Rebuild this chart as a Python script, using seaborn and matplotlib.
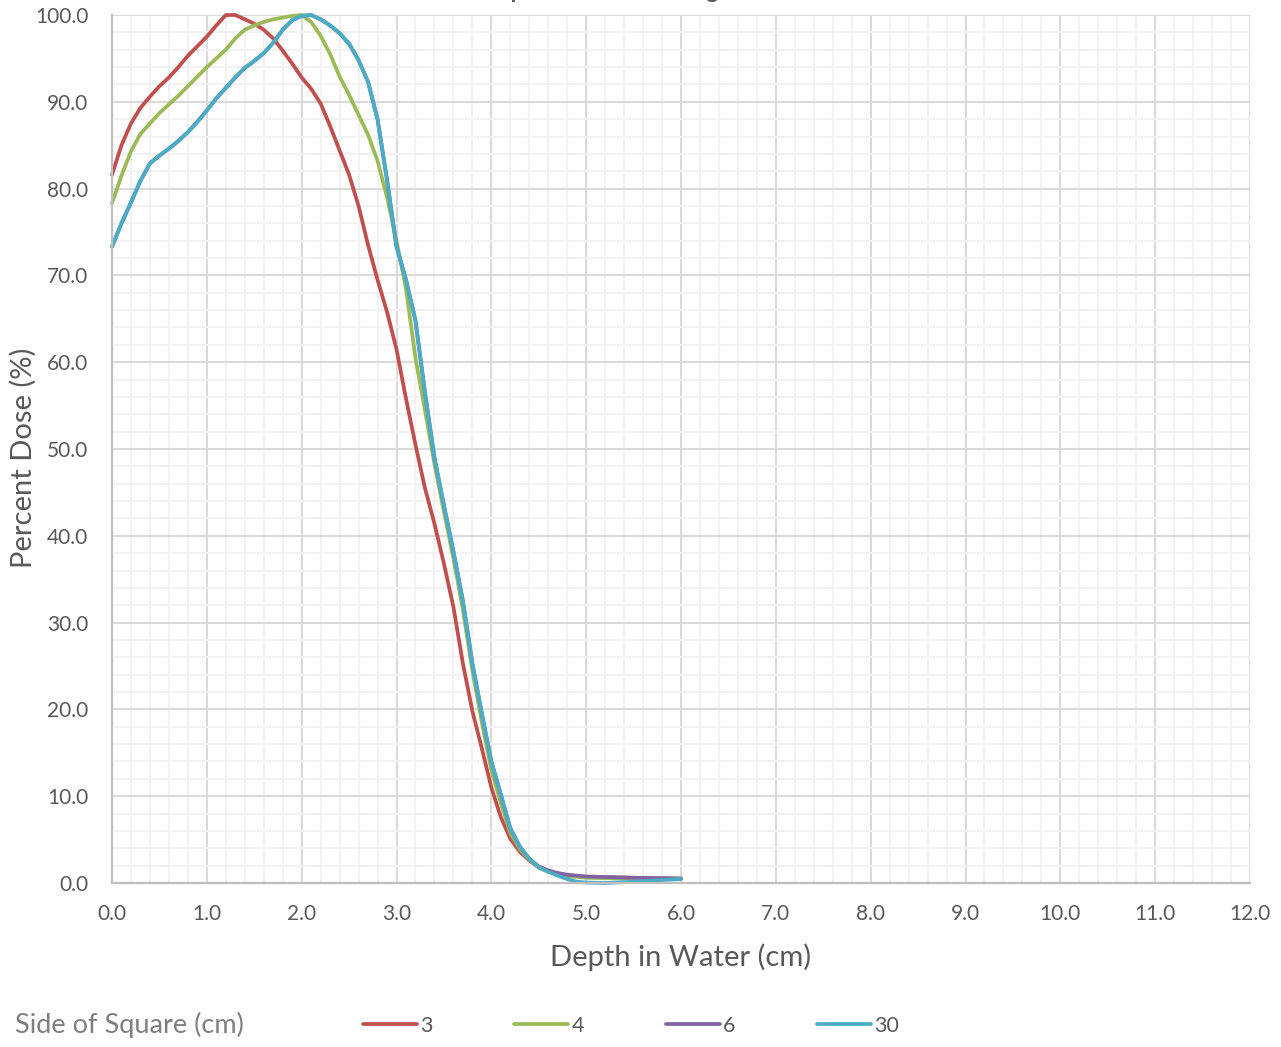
import numpy as np
import pandas as pd
import seaborn as sns
import matplotlib
matplotlib.use("Agg")
import matplotlib.pyplot as plt
from matplotlib.ticker import MultipleLocator
from matplotlib.lines import Line2D

# ---------------- data ----------------
title = "Depth Dose Percentage"
series_names = ["3", "4", "6", "30"]
colors = ["#C0504D", "#9BBB59", "#8064A2", "#4BACC6"]

depth_3 = [0.0, 0.1, 0.2, 0.3, 0.4, 0.5, 0.6, 0.7, 0.8, 0.9, 1.0, 1.1, 1.2, 1.3, 1.4, 1.5,
           1.6, 1.7, 1.8, 1.9, 2.0, 2.1, 2.2, 2.3, 2.4, 2.5, 2.6, 2.7, 2.8, 2.9, 3.0, 3.1,
           3.2, 3.3, 3.4, 3.5, 3.6, 3.7, 3.8, 3.9, 4.0, 4.1, 4.2, 4.3, 4.4, 4.5, 4.6, 4.8,
           5.0, 5.5, 6.0]
dose_3 = [81.6, 85.0, 87.5, 89.3, 90.6, 91.8, 92.8, 94.0, 95.3, 96.4, 97.5, 98.8, 100.0,
          100.0, 99.5, 99.0, 98.3, 97.3, 95.9, 94.4, 92.8, 91.5, 89.8, 87.2, 84.4, 81.6,
          78.0, 73.5, 69.5, 65.8, 61.5, 55.8, 50.5, 45.5, 41.4, 36.8, 31.8, 25.3, 19.8,
          15.5, 11.0, 7.6, 5.1, 3.6, 2.6, 1.8, 1.3, 0.9, 0.7, 0.6, 0.5]

depth_4 = [0.0, 0.1, 0.2, 0.3, 0.4, 0.5, 0.6, 0.7, 0.8, 0.9, 1.0, 1.1, 1.2, 1.3, 1.4, 1.5,
           1.6, 1.7, 1.8, 1.9, 2.0, 2.1, 2.2, 2.3, 2.4, 2.5, 2.6, 2.7, 2.8, 2.9, 3.0, 3.1,
           3.2, 3.3, 3.4, 3.5, 3.6, 3.7, 3.8, 3.9, 4.0, 4.1, 4.2, 4.3, 4.4, 4.5, 4.6, 4.8,
           5.0, 5.5, 6.0]
dose_4 = [78.3, 81.5, 84.3, 86.3, 87.5, 88.7, 89.7, 90.7, 91.8, 92.9, 94.0, 95.0, 96.0,
          97.3, 98.3, 98.8, 99.2, 99.5, 99.7, 99.9, 100.0, 99.2, 97.6, 95.5, 92.9, 90.8,
          88.5, 86.2, 83.2, 79.0, 74.0, 68.5, 60.5, 54.5, 48.3, 42.8, 37.4, 31.5, 24.5,
          18.5, 13.0, 9.2, 5.8, 3.9, 2.7, 1.8, 1.3, 0.8, 0.6, 0.5, 0.5]

depth_6 = [0.0, 0.1, 0.2, 0.3, 0.4, 0.5, 0.6, 0.7, 0.8, 0.9, 1.0, 1.1, 1.2, 1.3, 1.4, 1.5,
           1.6, 1.7, 1.8, 1.9, 2.0, 2.1, 2.2, 2.3, 2.4, 2.5, 2.6, 2.7, 2.8, 2.9, 3.0, 3.1,
           3.2, 3.3, 3.4, 3.5, 3.6, 3.7, 3.8, 3.9, 4.0, 4.1, 4.2, 4.3, 4.4, 4.5, 4.6, 4.7,
           4.8, 5.0, 5.5, 6.0]
dose_6 = [73.3, 76.0, 78.4, 80.9, 82.9, 83.8, 84.6, 85.5, 86.5, 87.7, 89.0, 90.4, 91.6,
          92.8, 93.9, 94.7, 95.6, 96.8, 98.3, 99.4, 99.9, 100.0, 99.5, 98.8, 97.9, 96.7,
          94.8, 92.3, 88.0, 81.0, 73.3, 69.5, 64.8, 56.5, 49.0, 43.5, 38.2, 32.5, 25.3,
          19.5, 14.0, 10.2, 6.3, 4.2, 2.8, 1.9, 1.45, 1.15, 0.95, 0.75, 0.6, 0.5]

depth_30 = [0.0, 0.1, 0.2, 0.3, 0.4, 0.5, 0.6, 0.7, 0.8, 0.9, 1.0, 1.1, 1.2, 1.3, 1.4, 1.5,
            1.6, 1.7, 1.8, 1.9, 2.0, 2.1, 2.2, 2.3, 2.4, 2.5, 2.6, 2.7, 2.8, 2.9, 3.0, 3.1,
            3.2, 3.3, 3.4, 3.5, 3.6, 3.7, 3.8, 3.9, 4.0, 4.1, 4.2, 4.3, 4.4, 4.5, 4.6, 4.7,
            4.8, 4.9, 5.0, 5.2, 5.5, 6.0]
dose_30 = [73.3, 76.0, 78.4, 80.9, 82.9, 83.8, 84.6, 85.5, 86.5, 87.7, 89.0, 90.4, 91.6,
           92.8, 93.9, 94.7, 95.6, 96.8, 98.3, 99.4, 99.9, 100.0, 99.5, 98.8, 97.9, 96.7,
           94.8, 92.3, 88.0, 81.0, 73.3, 69.5, 64.8, 56.5, 49.0, 43.5, 38.2, 32.5, 25.3,
           19.5, 14.0, 10.2, 6.3, 4.2, 2.8, 1.8, 1.3, 0.85, 0.45, 0.15, 0.05, 0.0, 0.15, 0.46]

x_ticks = [0, 1, 2, 3, 4, 5, 6, 7, 8, 9, 10, 11, 12]
y_ticks = [0, 10, 20, 30, 40, 50, 60, 70, 80, 90, 100]

# ---------------- frame ----------------
frames = []
for name, d, v in zip(series_names, [depth_3, depth_4, depth_6, depth_30],
                      [dose_3, dose_4, dose_6, dose_30]):
    frames.append(pd.DataFrame({"Depth": d, "Dose": v, "Side": name}))
df = pd.concat(frames, ignore_index=True)

sns.set_theme(style="white")
plt.rcParams["font.family"] = ["Lato", "DejaVu Sans"]

W, H = 1281, 1047
fig = plt.figure(figsize=(W / 100, H / 100), dpi=100)
ax = fig.add_axes([112 / W, 1 - 883 / H, (1250 - 112) / W, (883 - 15) / H])

sns.lineplot(data=df, x="Depth", y="Dose", hue="Side", hue_order=series_names,
             palette=colors, sort=False, estimator=None, units="Side",
             linewidth=2.7, ax=ax, legend=False)
for ln in ax.get_lines():
    ln.set_clip_on(False)
    ln.set_solid_capstyle("round")
    ln.set_solid_joinstyle("round")

ax.set_xlim(0, 12)
ax.set_ylim(0, 100)
ax.set_xticks(x_ticks)
ax.set_xticklabels([f"{v:.1f}" for v in x_ticks])
ax.set_yticks(y_ticks)
ax.set_yticklabels([f"{v:.1f}" for v in y_ticks])
ax.xaxis.set_minor_locator(MultipleLocator(0.2))
ax.yaxis.set_minor_locator(MultipleLocator(2))
ax.grid(which="minor", color="#F2F2F2", linewidth=1.5)
ax.grid(which="major", color="#D9D9D9", linewidth=1.4)
ax.set_axisbelow(True)
ax.tick_params(which="both", length=0)
ax.tick_params(axis="x", pad=15, labelsize=15, labelcolor="#595959")
ax.tick_params(axis="y", pad=17, labelsize=15, labelcolor="#595959")
for s in ["top", "right"]:
    ax.spines[s].set_visible(False)
for s in ["left", "bottom"]:
    ax.spines[s].set_color("#BFBFBF")
    ax.spines[s].set_linewidth(1.6)

ax.set_xlabel("Depth in Water (cm)", fontsize=21, color="#595959", labelpad=14)
ax.set_ylabel("Percent Dose (%)", fontsize=21, color="#595959")
ax.yaxis.set_label_coords(-0.0665, 0.49)

# title (mostly cut off at the top of the canvas, as in the reference)
renderer = fig.canvas.get_renderer()
probe = fig.text(0, 0, "De", fontsize=17, fontweight="bold")
prefix_w = probe.get_window_extent(renderer).width
probe.remove()
fig.text((510 - prefix_w) / W, 1 + 2 / H, title, ha="left", va="baseline", fontsize=17,
         color="#595959", fontweight="bold")

# legend
handles = [Line2D([], [], color=c, linewidth=2.7, solid_capstyle="round") for c in colors]
fig.text(15 / W, 1 - 1025 / H, "Side of Square (cm)", ha="left", va="center",
         fontsize=19.5, color="#7F7F7F")
fig.legend(handles, series_names, loc="center left", ncol=4,
           bbox_to_anchor=(363 / W, 1 - 1026 / H), frameon=False, fontsize=15.5,
           handlelength=2.5, handletextpad=0.15, columnspacing=3.8,
           borderpad=0, borderaxespad=0, labelcolor="#595959")

fig.savefig("out.png", dpi=100)
